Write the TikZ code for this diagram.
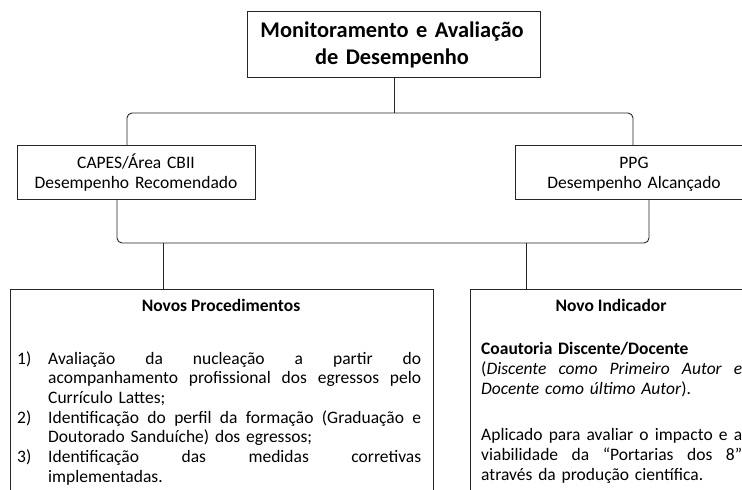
\documentclass[tikz,border=0pt]{standalone}
\usepackage{fontspec}
\setmainfont{Carlito}
\newcommand{\jline}[2]{\leavevmode\hbox to #1{\spaceskip=0.22em plus 1fil\relax #2}}
\begin{document}
\begin{tikzpicture}[x=1pt,y=-1pt,
  box/.style={draw=black!85, line width=0.9pt, inner sep=0pt, anchor=north west},
  conn/.style={draw=black!85, line width=0.9pt, rounded corners=5pt},
  txt/.style={inner sep=0pt, font=\fontsize{17.5}{20}\selectfont},
  ttl/.style={inner sep=0pt, font=\bfseries\fontsize{22.4}{26.5}\selectfont}]
\useasboundingbox (0,0) rectangle (742,490);
\clip (0,0) rectangle (742,490);
\fill[white] (0,0) rectangle (742,490);
% boxes
\node[box, minimum width=293pt, minimum height=66pt] (top) at (247,11) {};
\node[box, minimum width=238pt, minimum height=54pt] (midL) at (17,145) {};
\node[box, minimum width=238pt, minimum height=54pt] (midR) at (515,145) {};
\node[box, minimum width=423.5pt, minimum height=230pt] (lowL) at (9.5,289) {};
\node[box, minimum width=282pt, minimum height=230pt] (lowR) at (470,289) {};
% texts
\node[ttl, anchor=base, text width=290pt, align=center] (toptxt) at (392,37.5)
  {Monitoramento e Avaliação\\de Desempenho};
\node[txt, anchor=base, text width=236pt, align=center] (midLtxt) at (136,168)
  {CAPES/Área CBII\\Desempenho Recomendado};
\node[txt, anchor=base, text width=236pt, align=center] (midRtxt) at (634,168)
  {PPG\\Desempenho Alcançado};
\node[txt, anchor=base, font=\bfseries\fontsize{17.5}{20}\selectfont] (lowLttl) at (221,311) {Novos Procedimentos};
\node[txt, anchor=base, font=\bfseries\fontsize{17.5}{20}\selectfont] (lowRttl) at (611,311) {Novo Indicador};
\node[txt, anchor=base west, text width=404pt, align=left, font=\fontsize{17.5}{19.7}\selectfont] (list) at (17,364) {%
\makebox[31pt][l]{1)}\jline{373pt}{Avaliação da nucleação a partir do}\\
\hspace*{31pt}\jline{373pt}{acompanhamento profissional dos egressos pelo}\\
\hspace*{31pt}Currículo Lattes;\\
\makebox[31pt][l]{2)}\jline{373pt}{Identificação do perfil da formação (Graduação e}\\
\hspace*{31pt}Doutorado Sanduíche) dos egressos;\\
\makebox[31pt][l]{3)}\jline{373pt}{Identificação das medidas corretivas}\\
\hspace*{31pt}implementadas.};
\node[txt, anchor=base west, text width=262pt, align=left] (coaut) at (481,354) {%
\textbf{Coautoria Discente/Docente}\\
\jline{261pt}{(\textit{Discente como Primeiro Autor e}}\\
\textit{Docente como último Autor}).};
\node[txt, anchor=base west, text width=262pt, align=left] (aplic) at (481,440) {%
\jline{261pt}{Aplicado para avaliar o impacto e a}\\
\jline{261pt}{viabilidade da “Portarias dos 8”}\\
através da produção científica.};
% connectors
\coordinate (h1) at (top.south |- 0,113);
\draw[conn] (top.south) -- (h1);
\draw[conn] ([xshift=110pt]midL.north west) |- (h1) -| ([xshift=118pt]midR.north west);
\coordinate (h2) at (344,243);
\draw[conn] ([xshift=100pt]midL.south west) |- (h2) -| ([xshift=134pt]midR.south west);
\coordinate (dL) at (163,243);
\coordinate (dR) at (526,243);
\draw[conn] (dL) -- (dL |- lowL.north);
\draw[conn] (dR) -- (dR |- lowR.north);
\end{tikzpicture}
\end{document}
